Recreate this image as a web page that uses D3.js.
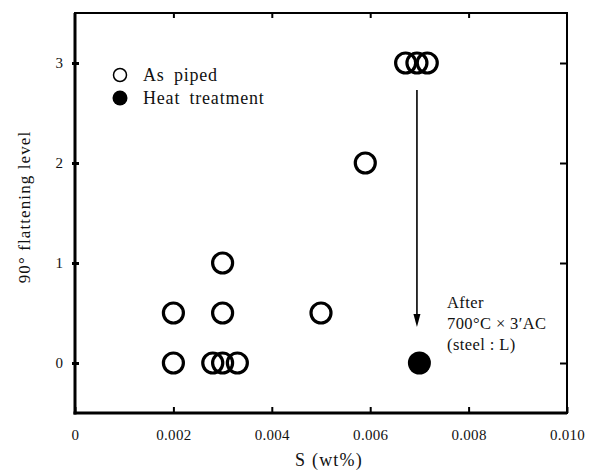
<!DOCTYPE html>
<html>
<head>
<meta charset="utf-8">
<script src="https://cdn.jsdelivr.net/npm/d3@7/dist/d3.min.js"></script>
<style>
  html, body { margin: 0; padding: 0; background: #fff; }
  svg { display: block; }
  text { font-family: "Liberation Serif", "DejaVu Serif", serif; fill: #111; }
</style>
</head>
<body>
<svg id="chart" width="599" height="473"></svg>
<script>
// Data
const asPipedS     = [0.0020, 0.0020, 0.0028, 0.0030, 0.0033, 0.0030, 0.0030, 0.0050, 0.0059, 0.00672, 0.00695, 0.00716];
const asPipedLevel = [0.5,    0,      0,      0,      0,      0.5,    1,      0.5,    2,      3,       3,       3];
const heatS     = [0.0070];
const heatLevel = [0.0];
const xTicks = [0, 0.002, 0.004, 0.006, 0.008, 0.010];
const xTickLabels = ["0", "0.002", "0.004", "0.006", "0.008", "0.010"];
const yTicks = [0, 1, 2, 3];
const yTickLabels = ["0", "1", "2", "3"];
const arrowFrom = {s: 0.00695, level: 2.73};
const arrowTo   = {s: 0.00695, level: 0.36};

const svg = d3.select("#chart");
const L = 75, R = 567, T = 13, B = 413;
const x = d3.scaleLinear().domain([0, 0.010]).range([L, R]);
const y = d3.scaleLinear().domain([-0.5, 3.5]).range([B, T]);
const serif = "'Liberation Serif', 'DejaVu Serif', serif";

// frame
svg.append("rect").attr("x", L).attr("y", T).attr("width", R - L).attr("height", B - T)
  .attr("fill", "none").attr("stroke", "#000").attr("stroke-width", 2);
svg.append("line").attr("x1", L).attr("x2", L).attr("y1", T).attr("y2", B + 1.5).attr("stroke", "#000").attr("stroke-width", 3);
svg.append("line").attr("x1", L - 1.5).attr("x2", R).attr("y1", B).attr("y2", B).attr("stroke", "#000").attr("stroke-width", 3);

// bottom axis (inward ticks)
const xAxis = d3.axisBottom(x).tickValues(xTicks)
  .tickFormat((d, i) => xTickLabels[i]).tickSizeInner(-6).tickSizeOuter(0).tickPadding(16);
const gx = svg.append("g").attr("transform", `translate(0,${B})`).call(xAxis);
gx.attr("font-family", serif);
gx.select(".domain").remove();
gx.selectAll("line").attr("stroke-width", 2);
gx.selectAll("text").style("font-size", "15px").style("font-family", serif).style("letter-spacing", "0.3px");

// top axis
const gxt = svg.append("g").attr("transform", `translate(0,${T})`)
  .call(d3.axisTop(x).tickValues(xTicks.slice(1, -1)).tickSizeInner(-5).tickSizeOuter(0).tickFormat(""));
gxt.select(".domain").remove();
gxt.selectAll("line").attr("stroke-width", 2);

// left axis
const yAxis = d3.axisLeft(y).tickValues(yTicks).tickFormat((d, i) => yTickLabels[i])
  .tickSizeInner(3).tickSizeOuter(0).tickPadding(9);
const gy = svg.append("g").attr("transform", `translate(${L},0)`).call(yAxis);
gy.attr("font-family", serif);
gy.select(".domain").remove();
gy.selectAll("line").attr("stroke-width", 3).attr("x2", -3).attr("x1", 4);
gy.selectAll("text").style("font-size", "15px").style("font-family", serif);

// right axis
const gyr = svg.append("g").attr("transform", `translate(${R},0)`)
  .call(d3.axisRight(y).tickValues(yTicks).tickSizeInner(-7).tickSizeOuter(0).tickFormat(""));
gyr.select(".domain").remove();
gyr.selectAll("line").attr("stroke-width", 2);

// axis titles
svg.append("text").attr("transform", `translate(30,${207}) rotate(-90)`)
  .attr("text-anchor", "middle").style("font-size", "17px").style("letter-spacing", "1.1px")
  .text("90° flattening level");
svg.append("text").attr("x", 329).attr("y", 466).attr("text-anchor", "middle")
  .style("font-size", "18px").style("letter-spacing", "1.2px").text("S (wt%)");

// points
const pts = asPipedS.map((s, i) => ({s, v: asPipedLevel[i]}));
svg.append("g").selectAll("circle").data(pts).join("circle")
  .attr("cx", d => x(d.s)).attr("cy", d => y(d.v)).attr("r", 10)
  .attr("fill", "none").attr("stroke", "#000").attr("stroke-width", 3.2);
svg.append("g").selectAll("circle").data(heatS.map((s, i) => ({s, v: heatLevel[i]}))).join("circle")
  .attr("cx", d => x(d.s)).attr("cy", d => y(d.v)).attr("r", 11.5).attr("fill", "#000");

// arrow
const ax = x(arrowFrom.s), ay1 = y(arrowFrom.level), ay2 = y(arrowTo.level);
svg.append("line").attr("x1", ax).attr("x2", ax).attr("y1", ay1).attr("y2", ay2 - 10)
  .attr("stroke", "#000").attr("stroke-width", 1.6);
svg.append("path").attr("d", `M${ax - 3.5},${ay2 - 13} L${ax + 3.5},${ay2 - 13} L${ax},${ay2} Z`).attr("fill", "#000");

// annotation
const ann = svg.append("text").style("font-size", "16.5px").style("letter-spacing", "0.4px");
["After", "700°C × 3′AC", "(steel : L)"].forEach((t, i) => {
  ann.append("tspan").attr("x", 447).attr("y", 308 + i * 21).text(t);
});

// legend
svg.append("circle").attr("cx", 120).attr("cy", 75).attr("r", 6.5).attr("fill", "none").attr("stroke", "#000").attr("stroke-width", 1.5);
svg.append("circle").attr("cx", 120).attr("cy", 98).attr("r", 7.5).attr("fill", "#000");
svg.append("text").attr("x", 143).attr("y", 81).style("font-size", "18px").style("word-spacing", "4px").style("letter-spacing", "0.8px").text("As piped");
svg.append("text").attr("x", 143).attr("y", 104).style("font-size", "18px").style("word-spacing", "4px").style("letter-spacing", "0.8px").text("Heat treatment");
</script>
</body>
</html>
